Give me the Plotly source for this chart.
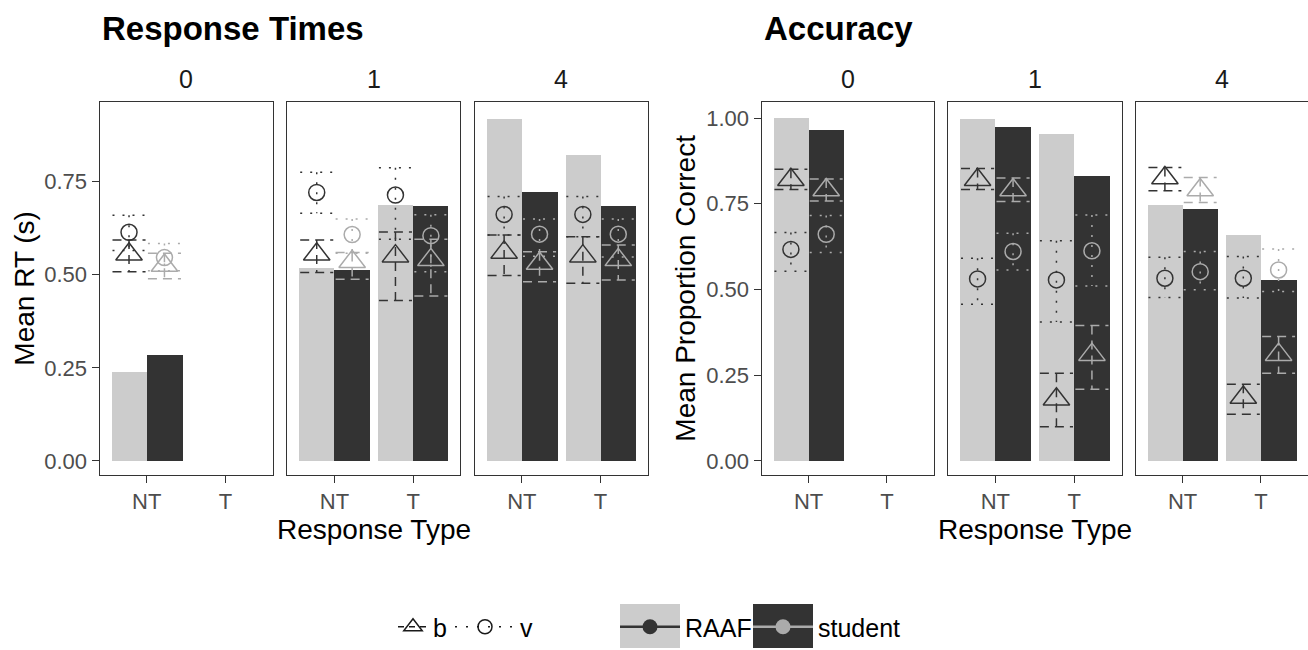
import plotly.graph_objects as go

W, H = 1308, 650

facets = ["0", "1", "4"]
types = ["NT", "T"]
groups = ["RAAF", "student"]

# ---------------- Response times (s) : values per [facet][type] ----------------
rt_bar_raaf = [[0.239, None], [0.517, 0.687], [0.918, 0.822]]
rt_bar_student = [[0.283, None], [0.513, 0.685], [0.721, 0.685]]

rt_b_raaf_mean = [[0.555, None], [0.555, 0.550], [0.560, 0.550]]
rt_b_raaf_lo = [[0.508, None], [0.506, 0.431], [0.498, 0.477]]
rt_b_raaf_hi = [[0.593, None], [0.593, 0.615], [0.607, 0.602]]
rt_b_student_mean = [[0.525, None], [0.535, 0.540], [0.530, 0.540]]
rt_b_student_lo = [[0.489, None], [0.488, 0.443], [0.481, 0.486]]
rt_b_student_hi = [[0.558, None], [0.560, 0.595], [0.562, 0.580]]

rt_v_raaf_mean = [[0.614, None], [0.721, 0.714], [0.662, 0.662]]
rt_v_raaf_lo = [[0.565, None], [0.665, 0.595], [0.607, 0.602]]
rt_v_raaf_hi = [[0.660, None], [0.775, 0.787], [0.710, 0.710]]
rt_v_student_mean = [[0.546, None], [0.608, 0.605], [0.609, 0.609]]
rt_v_student_lo = [[0.511, None], [0.558, 0.508], [0.550, 0.548]]
rt_v_student_hi = [[0.584, None], [0.650, 0.661], [0.650, 0.650]]

# ---------------- Accuracy (proportion correct) ----------------
acc_bar_raaf = [[0.998, None], [0.995, 0.954], [0.747, 0.659]]
acc_bar_student = [[0.963, None], [0.974, 0.831], [0.735, 0.528]]

acc_b_raaf_mean = [[0.820, None], [0.820, 0.180], [0.825, 0.185]]
acc_b_raaf_lo = [[0.792, None], [0.792, 0.100], [0.788, 0.136]]
acc_b_raaf_hi = [[0.851, None], [0.853, 0.256], [0.856, 0.224]]
acc_b_student_mean = [[0.790, None], [0.790, 0.310], [0.790, 0.310]]
acc_b_student_lo = [[0.758, None], [0.757, 0.209], [0.754, 0.256]]
acc_b_student_hi = [[0.822, None], [0.825, 0.395], [0.827, 0.363]]

acc_v_raaf_mean = [[0.617, None], [0.531, 0.528], [0.533, 0.533]]
acc_v_raaf_lo = [[0.553, None], [0.457, 0.405], [0.477, 0.475]]
acc_v_raaf_hi = [[0.666, None], [0.591, 0.642], [0.594, 0.596]]
acc_v_student_mean = [[0.661, None], [0.611, 0.613], [0.552, 0.557]]
acc_v_student_lo = [[0.608, None], [0.557, 0.510], [0.499, 0.494]]
acc_v_student_hi = [[0.716, None], [0.664, 0.717], [0.611, 0.618]]

rt_ticks = [0.0, 0.25, 0.5, 0.75]
acc_ticks = [0.0, 0.25, 0.5, 0.75, 1.0]

# ---------------- styling ----------------
FONT = "Liberation Sans, Arial, Helvetica, sans-serif"
fill_col = {"RAAF": "#CCCCCC", "student": "#333333"}
pt_col = {"RAAF": "#333333", "student": "#ABABAB"}
dash_of = {"b": "9px,6px", "v": "2px,8px"}
sym_of = {"b": "triangle-up-open", "v": "circle-open"}
size_of = {"b": 23, "v": 16}
dodge = {"RAAF": -0.225, "student": 0.225}
BAR_W = 0.45
CAP_HALF = 0.21

left_dom = [(99.5, 272.7), (287.2, 460.4), (474.6, 647.8)]
right_dom = [(761.5, 934.0), (948.0, 1121.5), (1135.5, 1308.0)]
YTOP, YBOT = 102.3, 475.0
rt_range = [-0.0376, 0.963]
acc_range = [-0.041, 1.046]

plots = [
    dict(dom=left_dom, rng=rt_range, ticks=rt_ticks,
         bars={"RAAF": rt_bar_raaf, "student": rt_bar_student},
         pts={("b", "RAAF"): (rt_b_raaf_mean, rt_b_raaf_lo, rt_b_raaf_hi),
              ("b", "student"): (rt_b_student_mean, rt_b_student_lo, rt_b_student_hi),
              ("v", "RAAF"): (rt_v_raaf_mean, rt_v_raaf_lo, rt_v_raaf_hi),
              ("v", "student"): (rt_v_student_mean, rt_v_student_lo, rt_v_student_hi)}),
    dict(dom=right_dom, rng=acc_range, ticks=acc_ticks,
         bars={"RAAF": acc_bar_raaf, "student": acc_bar_student},
         pts={("b", "RAAF"): (acc_b_raaf_mean, acc_b_raaf_lo, acc_b_raaf_hi),
              ("b", "student"): (acc_b_student_mean, acc_b_student_lo, acc_b_student_hi),
              ("v", "RAAF"): (acc_v_raaf_mean, acc_v_raaf_lo, acc_v_raaf_hi),
              ("v", "student"): (acc_v_student_mean, acc_v_student_lo, acc_v_student_hi)}),
]

fig = go.Figure()
layout_axes = {}
xpos = [1, 2]

n = 0
for p in plots:
    for fi, fac in enumerate(facets):
        n += 1
        xr = "x" if n == 1 else f"x{n}"
        yr = "y" if n == 1 else f"y{n}"
        # bars
        for g in groups:
            vals = p["bars"][g][fi]
            xs = [xpos[t] + dodge[g] for t in range(2) if vals[t] is not None]
            ys = [vals[t] for t in range(2) if vals[t] is not None]
            fig.add_trace(go.Bar(x=xs, y=ys, width=BAR_W, marker=dict(color=fill_col[g], line=dict(width=0)),
                                 xaxis=xr, yaxis=yr, showlegend=False, hoverinfo="skip"))
        # error bars
        for m in ["b", "v"]:
            for g in groups:
                mean, lo, hi = p["pts"][(m, g)]
                ex, ey = [], []
                for t in range(2):
                    if mean[fi][t] is None:
                        continue
                    c = xpos[t] + dodge[g]
                    ex += [c - CAP_HALF, c + CAP_HALF, None, c, c, None, c - CAP_HALF, c + CAP_HALF, None]
                    ey += [hi[fi][t], hi[fi][t], None, hi[fi][t], lo[fi][t], None, lo[fi][t], lo[fi][t], None]
                fig.add_trace(go.Scatter(x=ex, y=ey, mode="lines", line=dict(color=pt_col[g], width=1.5, dash=dash_of[m]),
                                         xaxis=xr, yaxis=yr, showlegend=False, hoverinfo="skip", connectgaps=False))
        # points
        for m in ["b", "v"]:
            for g in groups:
                mean, lo, hi = p["pts"][(m, g)]
                xs = [xpos[t] + dodge[g] for t in range(2) if mean[fi][t] is not None]
                ys = [mean[fi][t] for t in range(2) if mean[fi][t] is not None]
                fig.add_trace(go.Scatter(x=xs, y=ys, mode="markers",
                                         marker=dict(symbol=sym_of[m], size=size_of[m], color=pt_col[g], line=dict(width=1.5)),
                                         xaxis=xr, yaxis=yr, showlegend=False, cliponaxis=False))
        x0, x1 = p["dom"][fi]
        first = fi == 0
        layout_axes["xaxis" if n == 1 else f"xaxis{n}"] = dict(
            domain=[x0 / W, min(x1 / W, 1.0)], range=[0.4, 2.6], tickmode="array", tickvals=xpos, ticktext=types,
            ticks="outside", ticklen=7, tickwidth=1, tickcolor="#333333", showline=True, linecolor="#333333",
            linewidth=1, mirror=True, showgrid=False, zeroline=False, anchor=yr,
            tickfont=dict(size=22, color="#4D4D4D", family=FONT), fixedrange=True)
        layout_axes["yaxis" if n == 1 else f"yaxis{n}"] = dict(
            domain=[1 - YBOT / H, 1 - YTOP / H], range=p["rng"], tickmode="array", tickvals=p["ticks"],
            tickformat=".2f", ticks="outside" if first else "", ticklen=7, tickwidth=1, tickcolor="#333333",
            showticklabels=first, showline=True, linecolor="#333333", linewidth=1, mirror=True,
            showgrid=False, zeroline=False, anchor=xr,
            tickfont=dict(size=22, color="#4D4D4D", family=FONT), fixedrange=True)

# legend entries (each in its own legend box so keys can be placed like the original)
fig.add_trace(go.Scatter(x=[None], y=[None], mode="lines+markers", name="b",
                         line=dict(color="#1A1A1A", width=1.5, dash="6px,5px"),
                         marker=dict(symbol="triangle-up-open", size=16, color="#1A1A1A", line=dict(width=1.5)),
                         legend="legend"))
fig.add_trace(go.Scatter(x=[None], y=[None], mode="lines+markers", name="v",
                         line=dict(color="#1A1A1A", width=1.5, dash="2px,9px"),
                         marker=dict(symbol="circle-open", size=14, color="#1A1A1A", line=dict(width=1.5)),
                         legend="legend3"))
fig.add_trace(go.Scatter(x=[None], y=[None], mode="lines+markers", name="RAAF",
                         line=dict(color=pt_col["RAAF"], width=2.5),
                         marker=dict(symbol="circle", size=15, color=pt_col["RAAF"]),
                         legend="legend2"))
fig.add_trace(go.Scatter(x=[None], y=[None], mode="lines+markers", name="student",
                         line=dict(color=pt_col["student"], width=2.5),
                         marker=dict(symbol="circle", size=15, color=pt_col["student"]),
                         legend="legend4"))

annotations = []
# titles
annotations.append(dict(text="<b>Response Times</b>", x=100 / W, y=1 - 28 / H, xref="paper", yref="paper",
                        xanchor="left", yanchor="middle", showarrow=False, font=dict(size=33, color="#000000", family=FONT)))
annotations.append(dict(text="<b>Accuracy</b>", x=762 / W, y=1 - 28 / H, xref="paper", yref="paper",
                        xanchor="left", yanchor="middle", showarrow=False, font=dict(size=33, color="#000000", family=FONT)))
# strip labels
for dom in (left_dom, right_dom):
    for fi, fac in enumerate(facets):
        x0, x1 = dom[fi]
        annotations.append(dict(text=fac, x=(x0 + x1) / 2 / W, y=1 - 79 / H, xref="paper", yref="paper",
                                xanchor="center", yanchor="middle", showarrow=False,
                                font=dict(size=25, color="#1A1A1A", family=FONT)))
# axis titles
ymid = 1 - (YTOP + YBOT) / 2 / H
annotations.append(dict(text="Mean RT (s)", x=25 / W, y=ymid, xref="paper", yref="paper", textangle=-90,
                        xanchor="center", yanchor="middle", showarrow=False, font=dict(size=28, color="#000000", family=FONT)))
annotations.append(dict(text="Mean Proportion Correct", x=686 / W, y=ymid, xref="paper", yref="paper", textangle=-90,
                        xanchor="center", yanchor="middle", showarrow=False, font=dict(size=28, color="#000000", family=FONT)))
annotations.append(dict(text="Response Type", x=(left_dom[0][0] + left_dom[2][1]) / 2 / W, y=1 - 529 / H,
                        xref="paper", yref="paper", xanchor="center", yanchor="middle", showarrow=False,
                        font=dict(size=28, color="#000000", family=FONT)))
annotations.append(dict(text="Response Type", x=(right_dom[0][0] + right_dom[2][1]) / 2 / W, y=1 - 529 / H,
                        xref="paper", yref="paper", xanchor="center", yanchor="middle", showarrow=False,
                        font=dict(size=28, color="#000000", family=FONT)))

# legend key backgrounds
shapes = [
    dict(type="rect", xref="paper", yref="paper", x0=620 / W, x1=680 / W, y0=1 - 648 / H, y1=1 - 604 / H,
         fillcolor=fill_col["RAAF"], line=dict(width=0), layer="below"),
    dict(type="rect", xref="paper", yref="paper", x0=753 / W, x1=813 / W, y0=1 - 648 / H, y1=1 - 604 / H,
         fillcolor=fill_col["student"], line=dict(width=0), layer="below"),
]

LEG_Y = 1 - 627 / H
leg_common = dict(orientation="h", xanchor="left", y=LEG_Y, yanchor="middle", bgcolor="rgba(0,0,0,0)",
                  font=dict(size=25, color="#000000", family=FONT), itemclick=False, itemdoubleclick=False)

fig.update_layout(
    width=W, height=H, margin=dict(l=0, r=0, t=0, b=0),
    paper_bgcolor="white", plot_bgcolor="white", barmode="overlay", bargap=0,
    font=dict(family=FONT, color="#000000"),
    annotations=annotations, shapes=shapes,
    legend=dict(x=393 / W, itemwidth=30, **leg_common),
    legend3=dict(x=450 / W, itemwidth=60, **leg_common),
    legend2=dict(x=615 / W, itemwidth=60, **leg_common),
    legend4=dict(x=748 / W, itemwidth=60, **leg_common),
    hovermode=False,
    **layout_axes,
)

fig.write_html("out.html", config={"displayModeBar": False})
